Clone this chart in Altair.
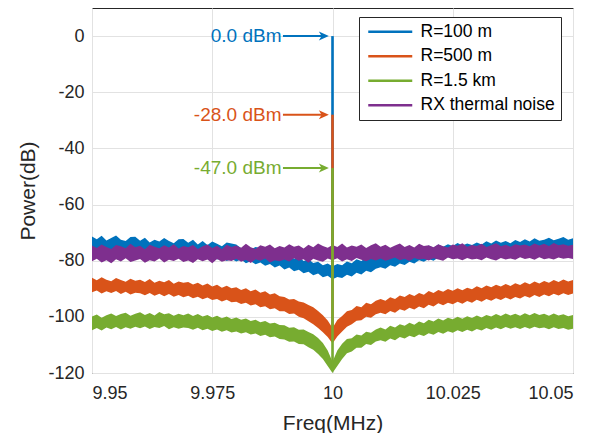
import altair as alt
import pandas as pd

# ---------------- data ----------------
freq = [9.950, 9.951, 9.952, 9.953, 9.954, 9.955, 9.956, 9.957, 9.958, 9.959,
        9.960, 9.961, 9.962, 9.963, 9.964, 9.965, 9.966, 9.967, 9.968, 9.969,
        9.970, 9.971, 9.972, 9.973, 9.974, 9.975, 9.976, 9.977, 9.978, 9.979,
        9.980, 9.981, 9.982, 9.983, 9.984, 9.985, 9.986, 9.987, 9.988, 9.989,
        9.990, 9.991, 9.992, 9.993, 9.994, 9.995, 9.996, 9.997, 9.998, 9.999,
        10.000, 10.001, 10.002, 10.003, 10.004, 10.005, 10.006, 10.007, 10.008, 10.009,
        10.010, 10.011, 10.012, 10.013, 10.014, 10.015, 10.016, 10.017, 10.018, 10.019,
        10.020, 10.021, 10.022, 10.023, 10.024, 10.025, 10.026, 10.027, 10.028, 10.029,
        10.030, 10.031, 10.032, 10.033, 10.034, 10.035, 10.036, 10.037, 10.038, 10.039,
        10.040, 10.041, 10.042, 10.043, 10.044, 10.045, 10.046, 10.047, 10.048, 10.049,
        10.050]

# R=100 m noise band (upper / lower edge, dB)
r100_hi = [-71.4, -72.4, -71.1, -72.8, -71.9, -71.0, -72.5, -73.0, -71.6, -71.5,
           -72.9, -71.8, -73.5, -72.5, -73.2, -71.9, -73.0, -73.8, -72.4, -72.3,
           -73.6, -72.5, -74.2, -73.0, -74.4, -73.2, -74.0, -74.9, -73.5, -73.9,
           -74.2, -75.6, -74.9, -76.0, -75.1, -75.5, -76.9, -76.1, -77.4, -76.8,
           -78.5, -77.6, -79.3, -78.7, -80.1, -79.5, -80.8, -80.4, -81.6, -81.0,
           -82.0, -81.2, -81.6, -80.3, -80.9, -79.5, -80.1, -78.9, -79.4, -78.3,
           -77.4, -78.1, -76.8, -77.5, -76.3, -76.9, -75.8, -76.5, -75.2, -75.9,
           -74.6, -75.4, -74.2, -75.0, -74.1, -74.8, -73.7, -74.6, -73.9, -74.4,
           -73.5, -74.2, -73.1, -73.9, -72.8, -73.6, -73.0, -73.8, -72.6, -73.3,
           -72.4, -73.2, -72.0, -72.9, -72.5, -71.8, -72.7, -72.2, -71.6, -72.5,
           -72.0]
r100_lo = [-76.9, -77.6, -76.4, -77.9, -76.8, -77.3, -78.1, -76.7, -77.5, -77.0,
           -77.8, -76.9, -78.3, -77.2, -78.0, -77.5, -78.6, -77.1, -78.2, -77.7,
           -78.4, -77.6, -79.0, -78.2, -79.3, -78.5, -79.6, -78.9, -80.1, -79.4,
           -80.3, -79.6, -80.9, -80.2, -81.3, -80.6, -81.8, -81.2, -82.4, -81.7,
           -83.1, -82.4, -83.8, -83.2, -84.5, -83.9, -85.2, -84.6, -85.9, -85.4,
           -86.6, -85.8, -86.2, -85.0, -85.6, -84.3, -84.9, -83.6, -84.1, -82.9,
           -82.3, -82.9, -81.6, -82.2, -81.0, -81.5, -80.4, -81.0, -79.8, -80.4,
           -79.4, -80.0, -78.9, -79.6, -78.7, -79.3, -78.3, -79.0, -78.4, -78.9,
           -78.1, -78.7, -77.7, -78.4, -77.4, -78.1, -77.6, -78.2, -77.1, -77.8,
           -77.1, -77.7, -76.6, -77.4, -77.0, -76.4, -77.2, -76.8, -76.2, -77.0,
           -76.6]

# R=500 m
r500_hi = [-86.1, -87.0, -85.9, -86.8, -87.3, -86.2, -86.9, -87.5, -86.4, -87.1,
           -86.8, -87.6, -86.5, -87.9, -87.1, -87.7, -86.9, -88.2, -87.4, -87.9,
           -87.6, -88.5, -87.9, -88.8, -88.1, -89.2, -88.6, -89.6, -88.9, -89.8,
           -89.5, -90.4, -89.8, -90.9, -90.3, -91.4, -90.9, -92.0, -91.6, -92.7,
           -92.9, -93.8, -93.6, -94.5, -94.9, -95.8, -96.6, -97.9, -99.4, -101.3,
           -104.0, -101.1, -99.7, -98.0, -97.6, -96.1, -96.6, -95.0, -95.5, -94.3,
           -93.6, -94.3, -93.0, -93.6, -92.4, -92.9, -91.9, -92.6, -91.5, -92.1,
           -90.8, -91.5, -90.4, -91.1, -90.1, -90.7, -89.8, -90.5, -89.6, -90.2,
           -89.1, -89.8, -88.8, -89.5, -88.6, -89.2, -88.3, -89.0, -88.0, -88.7,
           -87.7, -88.4, -87.4, -88.1, -87.2, -87.9, -86.9, -87.6, -86.7, -87.4,
           -86.9]
r500_lo = [-91.2, -90.6, -91.7, -90.9, -91.5, -90.8, -91.9, -91.1, -92.0, -91.4,
           -91.6, -92.3, -91.5, -92.5, -91.8, -92.7, -91.9, -92.8, -92.2, -93.0,
           -92.5, -93.4, -92.8, -93.7, -93.1, -94.0, -93.6, -94.5, -93.9, -94.8,
           -94.6, -95.4, -95.0, -96.0, -95.5, -96.6, -96.2, -97.3, -96.9, -98.0,
           -98.0, -99.0, -98.8, -100.0, -100.5, -101.6, -102.6, -104.0, -105.5, -107.2,
           -109.5, -107.0, -105.2, -103.5, -102.6, -101.4, -101.2, -100.0, -100.3, -99.1,
           -98.5, -99.1, -97.9, -98.5, -97.3, -97.8, -96.8, -97.4, -96.3, -96.9,
           -95.7, -96.3, -95.2, -95.9, -95.0, -95.5, -94.6, -95.3, -94.4, -95.0,
           -93.9, -94.6, -93.6, -94.3, -93.4, -94.0, -93.1, -93.8, -92.9, -93.5,
           -92.6, -93.2, -92.2, -92.9, -92.0, -92.7, -91.8, -92.4, -91.6, -92.2,
           -91.7]

# R=1.5 km
r1500_hi = [-99.9, -99.2, -100.3, -99.4, -98.8, -99.7, -99.0, -98.5, -99.6, -98.9,
            -98.4, -99.3, -98.6, -99.5, -98.3, -99.1, -98.7, -99.6, -98.9, -99.4,
            -98.8, -99.7, -99.0, -99.9, -99.3, -100.2, -99.6, -100.5, -99.9, -100.8,
            -100.2, -101.0, -100.6, -101.5, -101.0, -101.9, -101.5, -102.4, -102.1, -102.9,
            -103.0, -103.9, -103.7, -104.6, -104.5, -105.4, -106.2, -107.5, -109.3, -112.0,
            -116.0, -112.0, -109.6, -107.9, -107.6, -106.3, -106.6, -105.3, -105.7, -104.5,
            -103.8, -104.5, -103.2, -103.8, -102.6, -103.2, -102.1, -102.8, -101.7, -102.3,
            -101.0, -101.7, -100.6, -101.3, -100.3, -100.9, -100.0, -100.7, -99.8, -100.4,
            -99.5, -100.2, -99.3, -99.9, -99.0, -99.7, -98.8, -99.5, -98.9, -99.6,
            -98.7, -99.4, -98.6, -99.3, -98.9, -99.6, -98.8, -99.5, -99.1, -99.8,
            -99.3]
r1500_lo = [-104.8, -104.0, -104.9, -103.8, -104.4, -103.6, -104.5, -103.7, -104.2, -103.5,
            -104.1, -103.4, -104.3, -103.6, -104.0, -103.3, -104.4, -103.7, -104.2, -103.8,
            -104.0, -104.6, -103.9, -104.8, -104.2, -105.0, -104.5, -105.3, -104.8, -105.6,
            -105.2, -105.9, -105.5, -106.3, -105.9, -106.8, -106.4, -107.3, -107.0, -107.9,
            -108.1, -108.9, -108.8, -109.7, -109.8, -110.8, -111.7, -113.2, -115.0, -117.5,
            -120.0, -117.5, -115.0, -113.0, -112.3, -111.0, -111.0, -109.7, -110.0, -108.8,
            -108.3, -108.9, -107.7, -108.3, -107.2, -107.7, -106.7, -107.3, -106.3, -106.8,
            -105.8, -106.4, -105.4, -106.0, -105.1, -105.7, -104.8, -105.4, -104.6, -105.2,
            -104.3, -104.9, -104.0, -104.6, -103.8, -104.4, -103.6, -104.2, -103.7, -104.3,
            -103.6, -104.2, -103.5, -104.1, -103.8, -104.4, -103.7, -104.3, -104.0, -104.6,
            -104.2]

# RX thermal noise
rx_hi = [-74.6, -75.5, -74.2, -75.1, -75.8, -74.4, -74.9, -75.6, -74.0, -75.2,
         -74.7, -75.9, -74.3, -75.0, -75.6, -74.5, -75.3, -74.1, -75.7, -74.8,
         -75.2, -74.4, -75.8, -74.9, -74.2, -75.5, -74.7, -75.9, -74.3, -75.1,
         -74.6, -75.4, -74.0, -75.2, -75.8, -74.5, -75.0, -74.2, -75.6, -74.8,
         -75.3, -74.1, -75.0, -74.6, -75.7, -74.3, -75.2, -73.9, -74.8, -75.4,
         -74.4, -75.1, -73.9, -75.3, -74.6, -75.0, -74.2, -75.5, -74.5, -73.8,
         -75.0, -74.3, -75.4, -74.6, -73.9, -75.1, -74.4, -75.3, -74.0, -74.8,
         -74.5, -75.2, -74.1, -74.9, -75.3, -74.2, -74.7, -73.8, -75.0, -74.4,
         -74.8, -74.0, -75.1, -74.5, -73.8, -74.9, -74.3, -75.0, -74.1, -74.6,
         -74.2, -74.9, -73.9, -74.6, -74.0, -74.8, -73.7, -74.5, -74.1, -74.7,
         -74.3]
rx_lo = [-80.2, -79.3, -80.6, -79.8, -80.9, -79.5, -80.3, -79.1, -80.5, -79.9,
         -79.4, -80.7, -79.8, -80.3, -79.2, -80.6, -79.7, -80.1, -79.3, -80.5,
         -79.9, -80.8, -79.5, -80.2, -79.6, -80.9, -79.4, -80.4, -79.8, -80.1,
         -79.3, -80.4, -79.7, -80.8, -79.5, -80.0, -79.2, -80.6, -79.8, -80.2,
         -79.6, -80.3, -79.1, -80.0, -79.5, -80.7, -79.3, -79.9, -80.4, -79.2,
         -79.8, -79.1, -80.3, -79.5, -80.1, -79.0, -79.7, -80.2, -79.4, -79.9,
         -79.2, -80.0, -79.5, -78.9, -79.8, -79.3, -80.1, -79.0, -79.6, -79.3,
         -79.9, -79.1, -79.6, -80.0, -78.9, -79.5, -79.2, -79.8, -79.0, -79.6,
         -79.3, -79.8, -78.9, -79.5, -79.9, -79.0, -79.6, -79.2, -79.7, -78.8,
         -79.4, -79.0, -79.7, -78.8, -79.5, -79.1, -79.6, -78.9, -79.3, -79.0,
         -79.4]

series_names = ["R=100 m", "R=500 m", "R=1.5 km", "RX thermal noise"]
colors = ["#0072BD", "#D95319", "#77AC30", "#7E2F8E"]

# carrier spikes at 10 MHz
spike_series = ["R=100 m", "R=500 m", "R=1.5 km"]
spike_freq = [10.0, 10.0, 10.0]
spike_top = [0.0, -28.0, -47.0]
spike_floor = [-84.0, -107.0, -118.0]

# annotations
ann_text = ["0.0 dBm", "-28.0 dBm", "-47.0 dBm"]
ann_level = [0.0, -28.0, -47.0]
ann_color = colors[:3]
ann_text_x = [9.9894, 9.9894, 9.9894]
arrow_from = [9.9897, 9.9897, 9.9897]
arrow_to = [9.9982, 9.9982, 9.9982]

x_ticks = [9.95, 9.975, 10.0, 10.025, 10.05]
y_ticks = [-120, -100, -80, -60, -40, -20, 0]

FONT = "Liberation Sans"
INK = "#262626"


def xenc(field):
    return alt.X(f"{field}:Q",
                 scale=alt.Scale(domain=[9.95, 10.05], nice=False, zero=False),
                 axis=alt.Axis(values=x_ticks, labelExpr="toString(datum.value)",
                               title="Freq(MHz)"))


def yenc(field):
    return alt.Y(f"{field}:Q",
                 scale=alt.Scale(domain=[-120, 10], nice=False, zero=False),
                 axis=alt.Axis(values=y_ticks, labelExpr="toString(datum.value)",
                               title="Power(dB)"))


layers = []
bands = [(r100_hi, r100_lo, colors[0]),
         (r500_hi, r500_lo, colors[1]),
         (r1500_hi, r1500_lo, colors[2]),
         (rx_hi, rx_lo, colors[3])]
for hi, lo, col in bands:
    df = pd.DataFrame({"freq": freq, "hi": hi, "lo": lo})
    layers.append(
        alt.Chart(df).mark_area(color=col, opacity=1, interpolate="linear")
        .encode(x=xenc("freq"), y=yenc("hi"), y2="lo")
    )

spike_df = pd.DataFrame({"series": spike_series, "freq": spike_freq,
                         "top": spike_top, "floor": spike_floor})
layers.append(
    alt.Chart(spike_df).mark_rule(strokeWidth=2.6).encode(
        x=xenc("freq"), y=yenc("top"), y2="floor",
        color=alt.Color("series:N",
                        scale=alt.Scale(domain=series_names, range=colors),
                        legend=alt.Legend(
                            title=None, orient="none", legendX=267, legendY=9,
                            symbolType="M-1,0H7", symbolSize=121,
                            symbolStrokeWidth=2.6, labelOffset=38,
                            padding=6, rowPadding=5.5,
                            labelFont=FONT, labelFontSize=17.5,
                            labelColor="black", labelLimit=300,
                            strokeColor=INK, fillColor="white",
                            cornerRadius=0)))
)

ann_df = pd.DataFrame({"label": ann_text, "level": ann_level, "col": ann_color,
                       "tx": ann_text_x, "x0": arrow_from, "x1": arrow_to})
layers.append(
    alt.Chart(ann_df).mark_rule(strokeWidth=2).encode(
        x=xenc("x0"), x2="x1", y=yenc("level"),
        color=alt.Color("col:N", scale=None))
)
layers.append(
    alt.Chart(ann_df).mark_point(shape="M-1,-0.9L1,0L-1,0.9L-0.45,0Z", size=100,
                                 filled=True, opacity=1).encode(
        x=xenc("x1"), y=yenc("level"),
        color=alt.Color("col:N", scale=None))
)
layers.append(
    alt.Chart(ann_df).mark_text(align="right", baseline="middle", font=FONT,
                                fontSize=19).encode(
        x=xenc("tx"), y=yenc("level"), text="label:N",
        color=alt.Color("col:N", scale=None))
)

chart = (
    alt.layer(*layers)
    .properties(width=481, height=365,
                autosize=alt.AutoSizeParams(type="none"),
                padding={"left": 84, "top": 0, "right": 20, "bottom": 60},
                background="white")
    .configure_view(stroke=INK, strokeWidth=1)
    .configure_axis(grid=True, gridColor="#e2e2e2", gridWidth=1,
                    domain=False, ticks=False,
                    labelFont=FONT, labelFontSize=18, labelColor=INK,
                    titleFont=FONT, titleFontSize=21, titleFontWeight="normal",
                    titleColor=INK)
    .configure_axisX(labelPadding=11, titlePadding=10)
    .configure_axisY(labelPadding=8, titlePadding=9)
)

chart.save("out.html", embed_options={"renderer": "svg", "actions": False})
